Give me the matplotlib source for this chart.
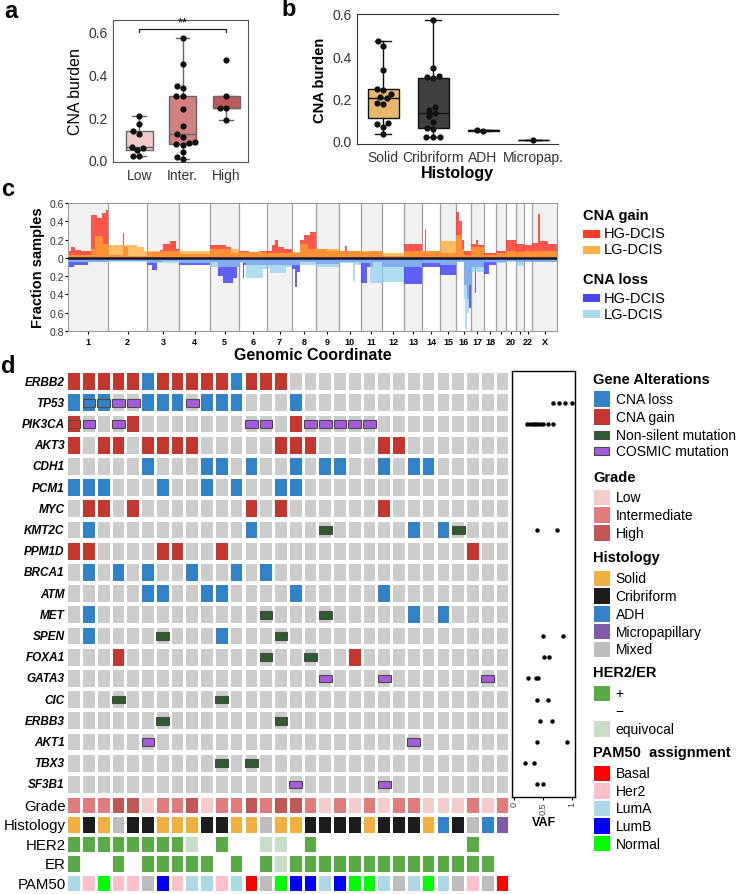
import matplotlib
matplotlib.use('Agg')
import matplotlib.pyplot as plt
from matplotlib.patches import Rectangle
import numpy as np
import pandas as pd
import seaborn as sns

plt.rcParams['font.family'] = ['Liberation Sans', 'DejaVu Sans']

W, H = 748, 895

# ---------------- panel a data: CNA burden by grade
grade_names = ['Low', 'Inter.', 'High']
burden_low = [0.205, 0.17, 0.135, 0.12, 0.06, 0.055, 0.045, 0.017, 0.017]
burden_inter = [0.57, 0.45, 0.345, 0.335, 0.30, 0.30, 0.24, 0.16, 0.12, 0.105,
                0.085, 0.08, 0.075, 0.07, 0.035, 0.015, 0.005]
burden_high = [0.47, 0.30, 0.245, 0.245, 0.185]
grade_box_colors = ['#f2caca', '#d48080', '#bf5a5a']

# ---------------- panel b data: CNA burden by histology
hist_names = ['Solid', 'Cribriform', 'ADH', 'Micropap.']
burden_solid = [0.47, 0.45, 0.335, 0.245, 0.24, 0.22, 0.205, 0.20, 0.18, 0.175,
                0.085, 0.08, 0.065, 0.03]
burden_crib = [0.57, 0.345, 0.305, 0.30, 0.295, 0.16, 0.145, 0.13, 0.115, 0.09,
               0.06, 0.055, 0.015, 0.015, 0.015]
burden_adh = [0.052, 0.046]
burden_micro = [0.003]
hist_box_colors = ['#e8b96b', '#404040', '#3a7fc0', '#7d5ba6']

# ---------------- panel c data: fraction of samples with CNA (segments: start Mb, value)
chrom_names = [str(i) for i in range(1, 23)] + ['X']
chrom_len = [249, 243, 198, 191, 181, 171, 159, 146, 141, 136, 135, 134, 115, 107,
             103, 90, 81, 78, 59, 63, 48, 51, 155]
hg_gain = [
    [(0, 0.07), (20, 0.12), (45, 0.09), (80, 0.07), (145, 0.47), (180, 0.44), (210, 0.49), (235, 0.52)],
    [(0, 0.03), (90, 0.27), (100, 0.12), (125, 0.02)],
    [(0, 0.06), (80, 0.09), (100, 0.15), (140, 0.18), (175, 0.1)],
    [(0, 0.04)],
    [(0, 0.14), (100, 0.12), (130, 0.05)],
    [(0, 0.07), (60, 0.06), (120, 0.08)],
    [(0, 0.08), (30, 0.14), (50, 0.2), (70, 0.12), (110, 0.1)],
    [(0, 0.05), (45, 0.2), (75, 0.25), (110, 0.28)],
    [(0, 0.1), (70, 0.08)],
    [(0, 0.08), (40, 0.13), (50, 0.07)],
    [(0, 0.06), (60, 0.08)],
    [(0, 0.02)],
    [(0, 0.15)],
    [(0, 0.08), (15, 0.32), (22, 0.08)],
    [(0, 0.05)],
    [(0, 0.5), (20, 0.4), (36, 0.2), (46, 0.08)],
    [(0, 0.15), (30, 0.2), (45, 0.14)],
    [(0, 0.05)],
    [(0, 0.08)],
    [(0, 0.2)],
    [(0, 0.15)],
    [(0, 0.14)],
    [(0, 0.16), (40, 0.48), (48, 0.18), (100, 0.15)],
]
lg_gain = [
    [(0, 0.03), (145, 0.1), (170, 0.24), (220, 0.15)],
    [(0, 0.14), (180, 0.12), (220, 0.07)],
    [(0, 0.07)], [(0, 0.08)], [(0, 0.1)], [(0, 0.06)], [(0, 0.05)],
    [(0, 0.06), (45, 0.15), (100, 0.1)],
    [(0, 0.1)], [(0, 0.08)], [(0, 0.08)], [(0, 0.05)], [(0, 0.08)], [(0, 0.07)],
    [(0, 0.18)],
    [(0, 0.25), (36, 0.1), (46, 0.03)],
    [(0, 0.12)], [(0, 0.03)], [(0, 0.05)], [(0, 0.08)], [(0, 0.06)], [(0, 0.08)],
    [(0, 0.08)],
]
hg_loss = [
    [(0, 0.1), (40, 0.08), (125, 0.05)],
    [(0, 0.03)],
    [(0, 0.08), (30, 0.13), (60, 0.05), (90, 0.03)],
    [(0, 0.08)],
    [(0, 0.05), (50, 0.2), (80, 0.27), (140, 0.22), (170, 0.1)],
    [(0, 0.04), (25, 0.22), (32, 0.08)],
    [(0, 0.08)],
    [(0, 0.12), (15, 0.32), (30, 0.15), (45, 0.04)],
    [(0, 0.07)],
    [(0, 0.05)],
    [(0, 0.27), (40, 0.1), (80, 0.05)],
    [(0, 0.1)],
    [(0, 0.29)],
    [(0, 0.1)],
    [(0, 0.19)],
    [(0, 0.05), (46, 0.3), (65, 0.45), (80, 0.55)],
    [(0, 0.1), (25, 0.38), (35, 0.1)],
    [(0, 0.18), (30, 0.08)],
    [(0, 0.05)], [(0, 0.03)], [(0, 0.05)], [(0, 0.04)], [(0, 0.04)],
]
lg_loss = [
    [(0, 0.04)], [(0, 0.04)], [(0, 0.06)], [(0, 0.06)], [(0, 0.1)],
    [(0, 0.06), (40, 0.22), (150, 0.12)],
    [(0, 0.1), (20, 0.17), (120, 0.1)],
    [(0, 0.08)], [(0, 0.1)],
    [(0, 0.06), (90, 0.25), (100, 0.08)],
    [(0, 0.06), (60, 0.28)],
    [(0, 0.26)], [(0, 0.1)], [(0, 0.06)], [(0, 0.08)],
    [(0, 0.05), (46, 0.45), (55, 0.78), (65, 0.6), (78, 0.3)],
    [(0, 0.15)], [(0, 0.05)], [(0, 0.06)], [(0, 0.04)], [(0, 0.09)], [(0, 0.04)],
    [(0, 0.05)],
]

# ---------------- panel d data: oncoprint (column indices per gene)
genes = ['ERBB2', 'TP53', 'PIK3CA', 'AKT3', 'CDH1', 'PCM1', 'MYC', 'KMT2C', 'PPM1D',
         'BRCA1', 'ATM', 'MET', 'SPEN', 'FOXA1', 'GATA3', 'CIC', 'ERBB3', 'AKT1',
         'TBX3', 'SF3B1']
n_samples = 30
cna_gain = [[0, 1, 2, 3, 4, 6, 7, 8, 9, 10, 12, 13, 14], [], [0, 4, 15],
            [0, 2, 3, 5, 6, 7, 8, 14, 15, 16, 21, 22], [], [], [1, 2, 4, 12, 14, 21], [],
            [0, 1, 6, 7, 10, 27], [], [], [], [], [3, 19], [], [], [], [], [], []]
cna_loss = [[5, 11], [0, 1, 2, 5, 6, 7, 9, 10, 11, 15], [], [],
            [5, 9, 10, 12, 15, 17, 18, 21, 23, 24], [0, 1, 2, 6, 9, 11, 14, 15], [],
            [1, 12, 23, 25], [], [1, 3, 5, 8, 11, 13], [5, 6, 9, 10, 15, 21],
            [1, 23, 25], [1, 10], [], [], [], [], [], [], []]
nonsilent = [[], [], [], [], [], [], [], [17, 26], [], [], [], [13, 17], [6, 14],
             [13, 16], [], [3, 10], [6, 14], [], [10, 12], []]
cosmic = [[], [3, 4, 8], [1, 3, 12, 13, 16, 17, 18, 19, 20], [], [], [], [], [], [],
          [], [], [], [], [], [17, 21, 28], [], [], [5, 23], [], [15, 21]]
other_mut = [[], [1, 2], [0], [], [], [], [], [], [], [], [], [], [], [], [], [], [],
             [], [], []]

grade = ['I', 'I', 'I', 'H', 'H', 'L', 'I', 'I', 'H', 'L', 'I', 'I', 'H', 'I', 'H',
         'H', 'I', 'L', 'I', 'L', 'I', 'L', 'I', 'I', 'L', 'L', 'L', 'I', 'L', 'I']
histology = ['S', 'C', 'S', 'M', 'C', 'C', 'S', 'S', 'S', 'C', 'C', 'S', 'S', 'M', 'S',
             'S', 'C', 'C', 'C', 'C', 'S', 'C', 'C', 'C', 'S', 'A', 'C', 'M', 'A', 'P']
her2 = ['+', '+', '+', '+', '+', '+', '+', '+', 'e', '-', '+', '-', '-', 'e', 'e',
        '-', '+', '-', '-', '-', '-', '-', '-', '-', '-', '-', '-', '+', '-', '-']
er = ['+', '-', '-', '+', '-', '+', '+', '+', '+', '+', '-', '+', '-', '+', 'e',
      '+', '+', '+', '+', '+', '+', '+', '+', '+', '+', '+', '+', '+', '+', '-']
pam50 = ['LumA', 'Her2', 'Normal', 'Her2', 'Her2', 'NA', 'LumB', 'Her2', 'LumA', 'LumA',
         'Her2', 'LumA', 'Basal', 'NA', 'Normal', 'LumB', 'LumB', 'LumA', 'LumB', 'Normal',
         'Normal', 'LumA', 'NA', 'LumA', 'Normal', 'LumA', 'NA', 'Her2', 'NA', 'Basal']

vaf_gene = [1, 1, 1, 1, 2, 2, 2, 2, 2, 2, 2, 2, 2, 7, 7, 12, 12, 13, 13, 14, 14, 14,
            15, 15, 16, 16, 17, 17, 18, 18, 19, 19]
vaf_value = [0.67, 0.78, 0.88, 1.0, 0.23, 0.28, 0.33, 0.37, 0.40, 0.45, 0.50, 0.59, 0.67,
             0.39, 0.74, 0.50, 0.84, 0.52, 0.60, 0.24, 0.38, 0.42, 0.39, 0.58, 0.45, 0.65,
             0.40, 0.92, 0.19, 0.35, 0.40, 0.50]

# colours
c_gray = '#cccccc'
c_loss = '#3182c8'
c_gain = '#c3372f'
c_ns = '#2e5a2e'
c_cos = '#a65bdf'
grade_col = {'L': '#f4cccc', 'I': '#e07c7c', 'H': '#c35656'}
hist_col = {'S': '#f2b040', 'C': '#1c1c1c', 'A': '#3182c8', 'P': '#7d5ba6', 'M': '#bdbdbd'}
rec_col = {'+': '#5aab46', '-': '#ffffff', 'e': '#c8dcc8'}
pam_col = {'Basal': '#ff0000', 'Her2': '#ffc0cb', 'LumA': '#add8e6', 'LumB': '#0000ff',
           'Normal': '#00ff00', 'NA': '#bdbdbd'}


def fbox(l, t, r, b):
    return [l / W, 1 - b / H, (r - l) / W, (b - t) / H]


fig = plt.figure(figsize=(W / 100, H / 100), dpi=100)


def box_swarm(ax, groups, names, colors, whis, edge, swarm_size):
    bp = ax.boxplot(groups, positions=range(len(groups)), widths=0.62, patch_artist=True,
                    showfliers=False, whis=whis,
                    medianprops=dict(color=edge, lw=1),
                    whiskerprops=dict(color=edge, lw=1),
                    capprops=dict(color=edge, lw=1),
                    boxprops=dict(edgecolor=edge, lw=1))
    for patch, col in zip(bp['boxes'], colors):
        patch.set_facecolor(col)
    df = pd.DataFrame({'g': np.repeat(names, [len(g) for g in groups]),
                       'v': np.concatenate(groups)})
    sns.swarmplot(data=df, x='g', y='v', order=names, ax=ax, color='#111111',
                  size=swarm_size, zorder=4)
    ax.set_xlabel('')
    ax.set_xticks(range(len(names)))
    ax.set_xticklabels(names)
    ax.tick_params(length=0, labelsize=10, labelcolor='#333333', pad=4)


# ---------------- panel a
axa = fig.add_axes(fbox(113, 21, 248, 163))
box_swarm(axa, [burden_low, burden_inter, burden_high], grade_names, grade_box_colors,
          1.5, '#666666', 4.5)
axa.set_xlim(-0.6, 2.5)
axa.set_ylim(-0.01, 0.655)
axa.set_yticks([0, 0.2, 0.4, 0.6])
axa.set_yticklabels(['0.0', '0.2', '0.4', '0.6'])
axa.set_ylabel('CNA burden', fontsize=11.5)
for s in axa.spines.values():
    s.set_color('#555555')
axa.plot([0, 0, 2, 2], [0.6, 0.613, 0.613, 0.6], color='#222222', lw=0.9)
axa.text(1, 0.614, '**', ha='center', va='bottom', fontsize=9)

# ---------------- panel b
axb = fig.add_axes(fbox(357, 15, 558, 145))
box_swarm(axb, [burden_solid, burden_crib, burden_adh, burden_micro], hist_names,
          hist_box_colors, (0, 100), '#111111', 4.5)
axb.set_xlim(-0.52, 3.5)
axb.set_ylim(-0.016, 0.6)
axb.set_yticks([0, 0.2, 0.4, 0.6])
axb.set_yticklabels(['0.0', '0.2', '0.4', '0.6'])
axb.set_ylabel('CNA burden', fontsize=10.5, fontweight='bold')
axb.set_xlabel('Histology', fontsize=11.5, fontweight='bold', labelpad=1)
axb.spines['right'].set_visible(False)
for s in axb.spines.values():
    s.set_color('#333333')


# ---------------- panel c
def build_profile(segs):
    xs, ys = [], []
    offset = 0
    for length, chrom_segs in zip(chrom_len, segs):
        for start, val in chrom_segs:
            xs.append(offset + start)
            ys.append(val)
        offset += length
    xs.append(offset)
    ys.append(ys[-1])
    return np.array(xs), np.array(ys)


axc = fig.add_axes(fbox(68, 204, 557, 332))
bounds = np.concatenate([[0], np.cumsum(chrom_len)])
for i in range(len(chrom_len)):
    if i % 2 == 0:
        axc.axvspan(bounds[i], bounds[i + 1], color='#f1f1f1', lw=0, zorder=0)
for b in bounds[1:-1]:
    axc.axvline(b, color='#a0a0a0', lw=0.9, zorder=1)

x, y = build_profile(hg_gain)
axc.fill_between(x, 0, y, step='post', color='#ff3b2f', alpha=0.85, lw=0, zorder=2)
x, y = build_profile(lg_gain)
axc.fill_between(x, 0, y, step='post', color='#ffa82a', alpha=0.72, lw=0, zorder=3)
x, y = build_profile(hg_loss)
axc.fill_between(x, 0, -y, step='post', color='#4646ff', alpha=0.85, lw=0, zorder=2)
x, y = build_profile(lg_loss)
axc.fill_between(x, 0, -y, step='post', color='#8fd0ec', alpha=0.7, lw=0, zorder=3)
axc.axhline(0, color='#15152a', lw=1.8, zorder=4)

axc.set_xlim(0, bounds[-1])
axc.set_ylim(-0.8, 0.6)
yt = [0.6, 0.4, 0.2, 0, -0.2, -0.4, -0.6, -0.8]
axc.set_yticks(yt)
axc.set_yticklabels(['0' if v == 0 else '%.1f' % abs(v) for v in yt])
centers = (bounds[:-1] + bounds[1:]) / 2
axc.set_xticks(centers)
axc.set_xticklabels(['' if n in ('19', '21') else n for n in chrom_names],
                    fontsize=6.5, fontweight='bold')
axc.tick_params(axis='y', labelsize=7.5, length=2, pad=1, labelcolor='#333333')
axc.tick_params(axis='x', length=2, pad=2)
for s in axc.spines.values():
    s.set_color('#999999')
axc.set_ylabel('Fraction samples', fontsize=10.5, fontweight='bold', labelpad=3)
axc.set_xlabel('Genomic Coordinate', fontsize=11.5, fontweight='bold', labelpad=1)

# ---------------- panel d oncoprint
axd = fig.add_axes(fbox(66.75, 372, 509.85, 895))
axd.set_xlim(-0.5, n_samples - 0.5)
axd.set_ylim(24.17, -0.5)
axd.axis('off')
cw, ch = 0.79, 0.79
mw, mh = 0.86, 0.35
for r, gene in enumerate(genes):
    for c in range(n_samples):
        col = c_gray
        if c in cna_gain[r]:
            col = c_gain
        elif c in cna_loss[r]:
            col = c_loss
        axd.add_patch(Rectangle((c - cw / 2, r - ch / 2), cw, ch, facecolor=col, lw=0))
        if c in nonsilent[r]:
            axd.add_patch(Rectangle((c - mw / 2, r - mh / 2), mw, mh, facecolor=c_ns,
                                    edgecolor='#4a4a4a', lw=0.8, zorder=3))
        if c in cosmic[r]:
            axd.add_patch(Rectangle((c - mw / 2, r - mh / 2), mw, mh, facecolor=c_cos,
                                    edgecolor='#4a4a4a', lw=0.8, zorder=3))
        if c in other_mut[r]:
            axd.add_patch(Rectangle((c - mw / 2, r - mh / 2), mw, mh, facecolor='none',
                                    edgecolor='#4a4a4a', lw=0.8, zorder=3))
    axd.text(-0.65, r, gene, ha='right', va='center', fontsize=8.5, fontweight='bold',
             fontstyle='italic')

ann_rows = [('Grade', [grade_col[v] for v in grade]),
            ('Histology', [hist_col[v] for v in histology]),
            ('HER2', [rec_col[v] for v in her2]),
            ('ER', [rec_col[v] for v in er]),
            ('PAM50', [pam_col[v] for v in pam50])]
ah = 0.73
for j, (label, cols) in enumerate(ann_rows):
    yy = 20 + 0.92 * j
    for c, col in enumerate(cols):
        axd.add_patch(Rectangle((c - cw / 2, yy - ah / 2), cw, ah, facecolor=col, lw=0))
    axd.text(-0.58, yy, label, ha='right', va='center', fontsize=10.8)

# VAF panel
axv = fig.add_axes(fbox(512, 372, 575, 798))
axv.plot(vaf_value, vaf_gene, 'o', color='black', ms=3.2, mew=0)
axv.set_ylim(19.59, -0.5)
axv.set_xlim(-0.034, 1.05)
axv.set_yticks([])
axv.set_xticks([0, 0.5, 1])
axv.set_xticklabels(['0', '0.5', '1'], rotation=90, fontsize=6.5, color='#444444')
axv.tick_params(axis='x', length=2, pad=1)
axv.set_xlabel('VAF', fontsize=9, fontweight='bold', labelpad=2)
for s in axv.spines.values():
    s.set_color('black')
    s.set_linewidth(1)


# ---------------- legends (figure pixel coordinates)
def leg_patch(xl, yc, w, h, color, edge='none'):
    fig.add_artist(Rectangle((xl / W, 1 - (yc + h / 2) / H), w / W, h / H,
                             transform=fig.transFigure, facecolor=color, edgecolor=edge,
                             lw=0.8))


def leg_text(xl, yc, s, bold=False, size=10.5):
    fig.text(xl / W, 1 - yc / H, s, ha='left', va='center', fontsize=size,
             fontweight='bold' if bold else 'normal')


leg_text(583, 216, 'CNA gain', True)
leg_patch(583, 234.5, 17, 8, '#ff3b22')
leg_text(604, 234.5, 'HG-DCIS')
leg_patch(583, 250.5, 17, 8, '#ffb347')
leg_text(604, 250.5, 'LG-DCIS')
leg_text(583, 280, 'CNA loss', True)
leg_patch(583, 299, 17, 8, '#4646ff')
leg_text(604, 299, 'HG-DCIS')
leg_patch(583, 315, 17, 8, '#aad8ec')
leg_text(604, 315, 'LG-DCIS')

px0, tx0 = 594, 615.5
leg_text(593, 379.5, 'Gene Alterations', True)
leg_patch(px0, 400, 15.5, 15.5, c_loss)
leg_text(tx0, 400, 'CNA loss', size=10)
leg_patch(px0, 418, 15.5, 15.5, c_gain)
leg_text(tx0, 418, 'CNA gain', size=10)
leg_patch(px0, 435.7, 15, 8, c_ns, '#4a4a4a')
leg_text(tx0, 435.7, 'Non-silent mutation', size=10)
leg_patch(px0, 452.3, 15, 8, c_cos, '#4a4a4a')
leg_text(tx0, 452.3, 'COSMIC mutation', size=10)

leg_text(593, 478.3, 'Grade', True)
for k, (nm, key) in enumerate([('Low', 'L'), ('Intermediate', 'I'), ('High', 'H')]):
    leg_patch(px0, 498.3 + 17.8 * k, 15.5, 15.5, grade_col[key])
    leg_text(tx0, 498.3 + 17.8 * k, nm, size=10)

leg_text(593, 558.3, 'Histology', True)
for k, (nm, key) in enumerate([('Solid', 'S'), ('Cribriform', 'C'), ('ADH', 'A'),
                               ('Micropapillary', 'P'), ('Mixed', 'M')]):
    leg_patch(px0, 579.3 + 17.8 * k, 15.5, 15.5, hist_col[key])
    leg_text(tx0, 579.3 + 17.8 * k, nm, size=10)

leg_text(593, 673.3, 'HER2/ER', True)
for k, (nm, key) in enumerate([('+', '+'), ('\u2212', '-'), ('equivocal', 'e')]):
    leg_patch(px0, 694.3 + 17.8 * k, 15.5, 15.5, rec_col[key])
    leg_text(tx0, 694.3 + 17.8 * k, nm, size=10)

leg_text(593, 753.3, 'PAM50  assignment', True)
for k, nm in enumerate(['Basal', 'Her2', 'LumA', 'LumB', 'Normal']):
    leg_patch(px0, 774.3 + 17.6 * k, 15.5, 15.5, pam_col[nm])
    leg_text(tx0, 774.3 + 17.6 * k, nm, size=10)

# panel letters
for letter, xp, yp in [('a', 4, 12), ('b', 281, 10), ('c', 1, 189), ('d', 1, 367)]:
    fig.text(xp / W, 1 - yp / H, letter, fontsize=17, fontweight='bold', va='center')

fig.savefig('out.png', dpi=100)
